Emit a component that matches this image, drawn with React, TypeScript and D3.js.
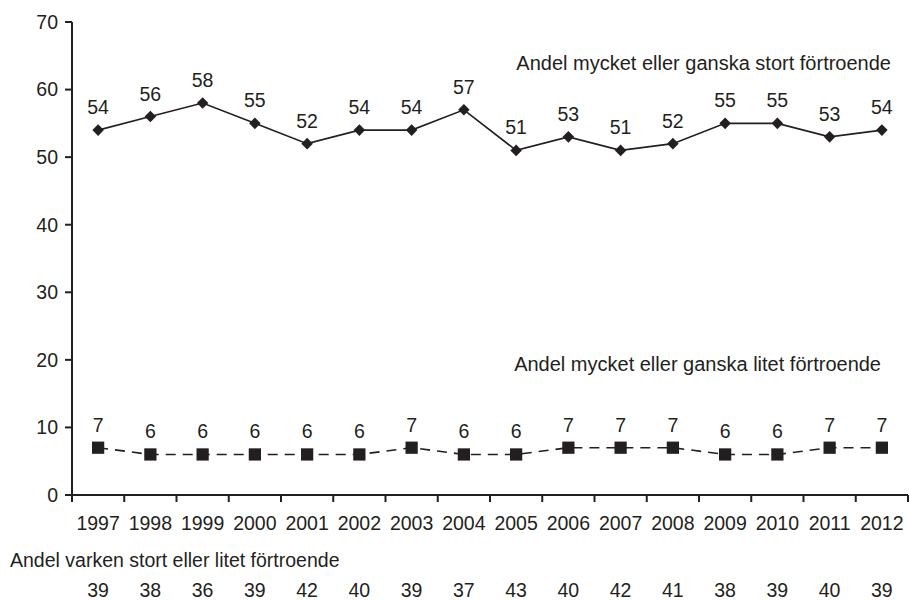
import React from "react";
import * as d3 from "d3";

const years = [1997, 1998, 1999, 2000, 2001, 2002, 2003, 2004, 2005, 2006, 2007, 2008, 2009, 2010, 2011, 2012];
const stortValues = [54, 56, 58, 55, 52, 54, 54, 57, 51, 53, 51, 52, 55, 55, 53, 54];
const litetValues = [7, 6, 6, 6, 6, 6, 7, 6, 6, 7, 7, 7, 6, 6, 7, 7];
const varkenValues = [39, 38, 36, 39, 42, 40, 39, 37, 43, 40, 42, 41, 38, 39, 40, 39];
const yTicks = [0, 10, 20, 30, 40, 50, 60, 70];

const stortLabel = "Andel mycket eller ganska stort förtroende";
const litetLabel = "Andel mycket eller ganska litet förtroende";
const varkenLabel = "Andel varken stort eller litet förtroende";

const W = 910;
const H = 600;
const font = "Arial, 'Liberation Sans', sans-serif";
const ink = "#231f20";

export default function App() {
  const x = d3.scaleBand<number>().domain(years).range([72, 908]).padding(0);
  const y = d3.scaleLinear().domain([0, 70]).range([495, 22]);
  const cx = (yr: number) => (x(yr) ?? 0) + x.bandwidth() / 2;

  const line = d3
    .line<number>()
    .x((_, i) => cx(years[i]))
    .y((d) => y(d));

  const diamond = d3.symbol().type(d3.symbolDiamond2).size(85)();
  const square = d3.symbol().type(d3.symbolSquare).size(150)();

  const boundaries = years.map((yr) => x(yr) as number).concat([908]);

  return (
    <svg
      width={W}
      height={H}
      style={{ position: "absolute", left: 0, top: 0, background: "#fff" }}
      fontFamily={font}
      fontSize={19.5}
      fill={ink}
    >
      {/* y axis */}
      <line x1={72} x2={72} y1={y(70)} y2={y(0)} stroke={ink} strokeWidth={2} />
      {yTicks.map((t) => (
        <g key={t}>
          <line x1={65} x2={72} y1={y(t)} y2={y(t)} stroke={ink} strokeWidth={2} />
          <text x={58} y={y(t)} dy="0.35em" textAnchor="end">
            {t}
          </text>
        </g>
      ))}

      {/* x axis */}
      <line x1={65} x2={908} y1={y(0)} y2={y(0)} stroke={ink} strokeWidth={2} />
      {boundaries.map((b, i) => (
        <line key={i} x1={b} x2={b} y1={y(0)} y2={y(0) + 7} stroke={ink} strokeWidth={2} />
      ))}
      {years.map((yr) => (
        <text key={yr} x={cx(yr)} y={530} textAnchor="middle">
          {yr}
        </text>
      ))}

      {/* stort series */}
      <path d={line(stortValues) ?? ""} fill="none" stroke={ink} strokeWidth={1.6} />
      {stortValues.map((v, i) => (
        <g key={i}>
          <path d={diamond ?? ""} transform={`translate(${cx(years[i])},${y(v)})`} fill={ink} />
          <text x={cx(years[i])} y={y(v) - 16} textAnchor="middle">
            {v}
          </text>
        </g>
      ))}
      <text x={891} y={70} textAnchor="end" fontSize={20}>
        {stortLabel}
      </text>

      {/* litet series */}
      <path
        d={line(litetValues) ?? ""}
        fill="none"
        stroke={ink}
        strokeWidth={1.6}
        strokeDasharray="10,7"
      />
      {litetValues.map((v, i) => (
        <g key={i}>
          <path d={square ?? ""} transform={`translate(${cx(years[i])},${y(v)})`} fill={ink} />
          <text x={cx(years[i])} y={y(v) - 16} textAnchor="middle">
            {v}
          </text>
        </g>
      ))}
      <text x={881} y={371} textAnchor="end" fontSize={20}>
        {litetLabel}
      </text>

      {/* varken row */}
      <text x={10} y={567}>
        {varkenLabel}
      </text>
      {varkenValues.map((v, i) => (
        <text key={i} x={cx(years[i])} y={597} textAnchor="middle">
          {v}
        </text>
      ))}
    </svg>
  );
}
